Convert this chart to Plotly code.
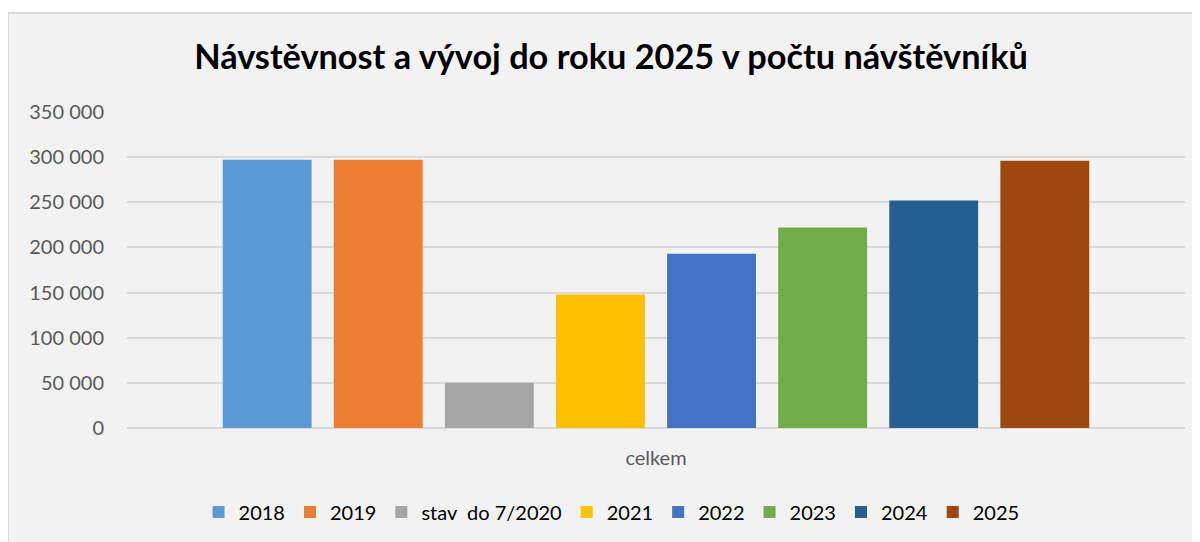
import plotly.graph_objects as go

# data
category = ["celkem"]
series_names = ["2018", "2019", "stav  do 7/2020", "2021", "2022", "2023", "2024", "2025"]
visitors = [297000, 297000, 50000, 148000, 193000, 222000, 252000, 296000]
colors = ["#5b9bd5", "#ed7d31", "#a5a5a5", "#ffc000", "#4472c4", "#70ad47", "#255e91", "#9e480e"]

y_ticks = [0, 50000, 100000, 150000, 200000, 250000, 300000, 350000]

fig = go.Figure()
for name, val, col in zip(series_names, visitors, colors):
    fig.add_trace(go.Bar(x=category, y=[val], name=name, marker=dict(color=col, line=dict(width=0))))

font_fam = "Lato, 'Open Sans', sans-serif"

# page body adds an 8px offset, so margins are shifted by that
fig.update_layout(
    width=1200, height=542,
    margin=dict(l=119, r=23, t=104, b=122),
    paper_bgcolor="white",
    plot_bgcolor="#f2f2f2",
    separators=", ",
    barmode="group",
    bargap=0.16,
    bargroupgap=0.2,
    font=dict(family=font_fam, color="#595959", size=20),
    title=dict(
        text="<b>Návstěvnost a vývoj do roku 2025 v počtu návštěvníků</b>",
        x=603 / 1200, xanchor="center", y=1 - 49 / 542, yanchor="middle",
        font=dict(family=font_fam, size=34.3, color="#000000"),
    ),
    xaxis=dict(showgrid=False, showline=False, ticks="", ticklabelstandoff=16,
               tickfont=dict(size=20, color="#595959")),
    yaxis=dict(
        range=[0, 350000], tickvals=y_ticks, tickformat=",d",
        showgrid=True, gridcolor="#d9d9d9", gridwidth=1.5,
        zeroline=True, zerolinecolor="#d9d9d9", zerolinewidth=1.5,
        showline=False, ticks="", ticklen=0, ticklabelstandoff=22,
        tickfont=dict(size=20, color="#595959"),
    ),
    legend=dict(
        orientation="h", x=0.458, xanchor="center", y=-84 / 316, yanchor="middle",
        font=dict(size=20, color="#000000"), bgcolor="rgba(0,0,0,0)",
        traceorder="normal",
    ),
    showlegend=True,
)

# chart area frame
fig.add_shape(
    type="rect", xref="paper", yref="paper",
    x0=-119 / 1058, x1=1100 / 1058, y0=-140 / 316, y1=415 / 316,
    line=dict(color="#d9d9d9", width=2), fillcolor="#f2f2f2", layer="below",
)

fig.write_html("out.html")
